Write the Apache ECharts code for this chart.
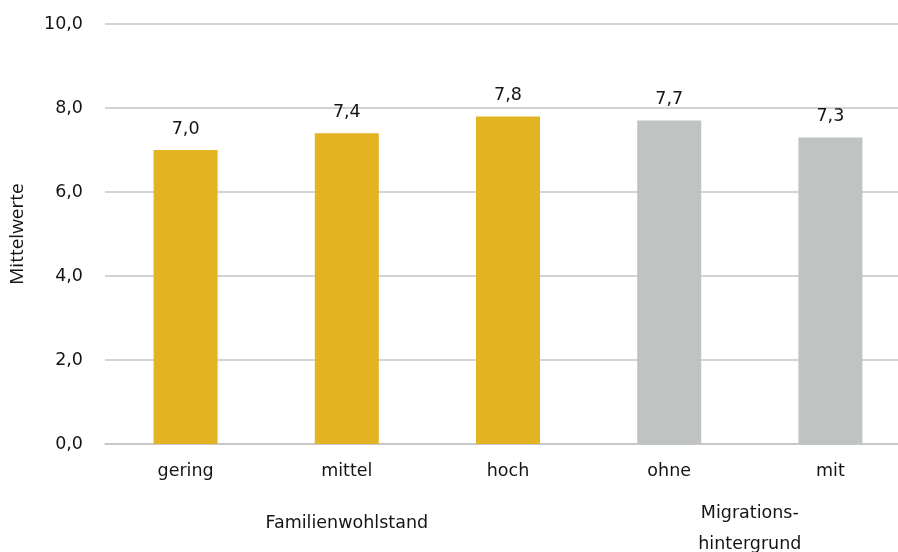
<!DOCTYPE html>
<html>
<head>
<meta charset="utf-8">
<script src="https://cdn.jsdelivr.net/npm/echarts@6/dist/echarts.min.js"></script>
<style>
  html, body { margin: 0; padding: 0; background: #fff; }
  #chart { width: 898px; height: 552px; }
</style>
</head>
<body>
<div id="chart"></div>
<script>
// Mittelwerte nach Familienwohlstand und Migrationshintergrund
var categories = ['gering', 'mittel', 'hoch', 'ohne', 'mit'];
var values = [7.0, 7.4, 7.8, 7.7, 7.3];
var groupOf = [0, 0, 0, 1, 1];
var groupNames = ['Familienwohlstand', 'Migrations-\nhintergrund'];
var groupColors = ['#E3B323', '#BFC4C2'];
var yTicks = { min: 0, max: 10, interval: 2 };

var FONT = 'DejaVu Sans';
var TEXT = '#141414';
var FS = 17.5;

function fmt(v) { return v.toFixed(1).replace('.', ','); }

var chart = echarts.init(document.getElementById('chart'), null, { renderer: 'canvas' });

var option = {
  animation: false,
  backgroundColor: '#ffffff',
  grid: { left: 105, right: -13, top: 24, bottom: 108, containLabel: false, outerBoundsMode: 'none' },
  xAxis: {
    type: 'category',
    data: categories,
    axisLine: { show: true, lineStyle: { color: '#c4c4c4', width: 1.5 } },
    axisTick: { show: false },
    axisLabel: { color: TEXT, fontFamily: FONT, fontSize: FS, margin: 18 }
  },
  yAxis: {
    type: 'value',
    min: yTicks.min,
    max: yTicks.max,
    interval: yTicks.interval,
    name: 'Mittelwerte',
    nameLocation: 'middle',
    nameGap: 78,
    nameRotate: 90,
    nameTextStyle: { color: TEXT, fontFamily: 'Open Sans', fontSize: 19 },
    axisLine: { show: false },
    axisTick: { show: false },
    splitLine: { lineStyle: { color: '#c4c4c4', width: 1.5 } },
    axisLabel: { color: TEXT, fontFamily: FONT, fontSize: FS, margin: 22, formatter: fmt }
  },
  series: [{
    type: 'bar',
    barWidth: 64,
    data: values.map(function (v, i) {
      return { value: v, itemStyle: { color: groupColors[groupOf[i]] } };
    }),
    label: {
      show: true,
      position: 'top',
      distance: 12,
      color: TEXT,
      fontFamily: FONT,
      fontSize: FS,
      formatter: function (p) { return fmt(p.value); }
    }
  }]
};

chart.setOption(option);

// Group captions below the category labels, centred under their bars
var groupTexts = groupNames.map(function (name, g) {
  var idx = [];
  groupOf.forEach(function (gg, i) { if (gg === g) idx.push(i); });
  var x0 = chart.convertToPixel({ xAxisIndex: 0 }, categories[idx[0]]);
  var x1 = chart.convertToPixel({ xAxisIndex: 0 }, categories[idx[idx.length - 1]]);
  var lines = name.split('\n').length;
  return {
    type: 'text',
    x: (x0 + x1) / 2,
    y: lines > 1 ? 529 : 523,
    style: {
      text: name,
      fill: TEXT,
      font: FS + 'px "' + FONT + '"',
      align: 'center',
      verticalAlign: 'middle',
      lineHeight: 31
    }
  };
});

chart.setOption({ graphic: groupTexts });
</script>
</body>
</html>
